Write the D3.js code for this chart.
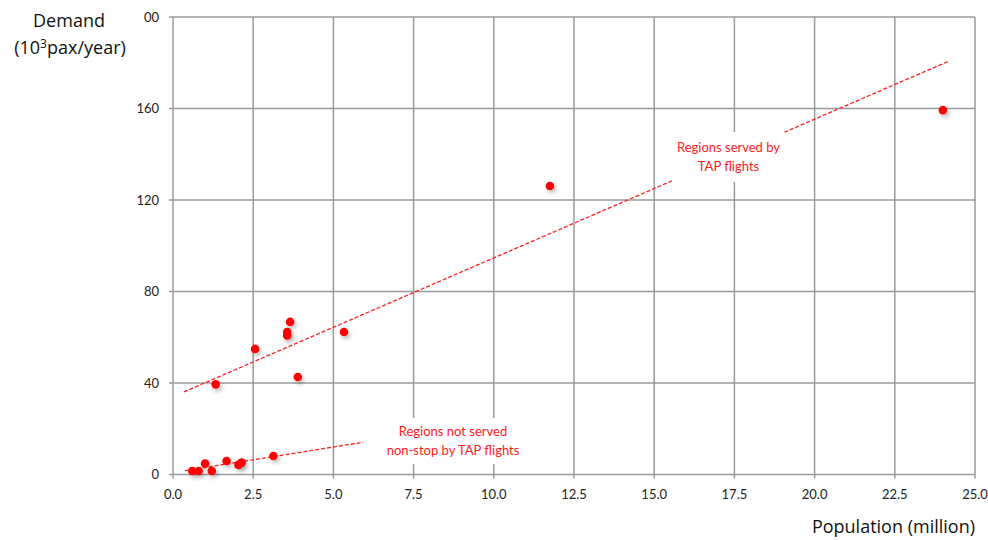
<!DOCTYPE html>
<html><head><meta charset="utf-8">
<script src="https://cdn.jsdelivr.net/npm/d3@7"></script>
<style>body{margin:0;background:#fff}svg{display:block}text{font-family:Lato,"Open Sans",sans-serif}</style>
</head><body><svg id="c" width="988" height="540"></svg>
<script>
const popX = [0.6, 0.8, 1.0, 1.21, 1.67, 2.04, 2.14, 3.13, 1.33, 2.56, 3.56, 3.56, 3.65, 3.89, 5.33, 11.75, 24.0];
const demandY = [1.5, 1.5, 4.8, 1.5, 5.9, 4.2, 5.2, 8.1, 39.4, 54.9, 62.3, 60.8, 66.7, 42.6, 62.3, 126.1, 159.3];
const xTicks = [0, 2.5, 5, 7.5, 10, 12.5, 15, 17.5, 20, 22.5, 25];
const xTickLabels = ["0.0","2.5","5.0","7.5","10.0","12.5","15.0","17.5","20.0","22.5","25.0"];
const yTicks = [0, 40, 80, 120, 160, 200];
const yTickLabels = ["0","40","80","120","160","00"];
// trend lines: [x0, y0, x1, y1]
const trendServed = [0.34, 36.1, 24.2, 180.8];
const trendNotServed = [0.37, 1.66, 5.93, 14.1];
const labelServed = ["Regions served by", "TAP flights"];
const labelNotServed = ["Regions not served", "non-stop by TAP flights"];

const svg = d3.select("#c");
const x = d3.scaleLinear().domain([0, 25]).range([173, 975]);
const y = d3.scaleLinear().domain([0, 200]).range([474.5, 17]);
const grid = "#9a9a9a";

const defs = svg.append("defs");
const f = defs.append("filter").attr("id","sh").attr("x","-100%").attr("y","-100%").attr("width","300%").attr("height","300%");
f.append("feGaussianBlur").attr("in","SourceAlpha").attr("stdDeviation",2).attr("result","b");
f.append("feOffset").attr("in","b").attr("dx",1.5).attr("dy",2.5).attr("result","o");
f.append("feComponentTransfer").attr("in","o").attr("result","o2").append("feFuncA").attr("type","linear").attr("slope",0.25);
const m = f.append("feMerge"); m.append("feMergeNode").attr("in","o2"); m.append("feMergeNode").attr("in","SourceGraphic");

// gridlines
svg.append("g").selectAll("line").data(xTicks).join("line")
  .attr("x1", d => x(d)).attr("x2", d => x(d)).attr("y1", y(200)).attr("y2", y(0) + 4)
  .attr("stroke", grid).attr("stroke-width", 1.5);
svg.append("g").selectAll("line").data(yTicks).join("line")
  .attr("x1", x(0) - 4).attr("x2", x(25)).attr("y1", d => y(d)).attr("y2", d => y(d))
  .attr("stroke", grid).attr("stroke-width", 1.5);

// tick labels
svg.append("g").selectAll("text").data(xTicks).join("text")
  .attr("x", d => x(d)).attr("y", 499).attr("text-anchor","middle")
  .attr("font-size", 13).attr("fill","#222").text((d,i) => xTickLabels[i]);
svg.append("g").selectAll("text").data(yTicks).join("text")
  .attr("x", 159).attr("y", d => y(d) + 4.5).attr("text-anchor","end")
  .attr("font-size", 13).attr("fill","#222").text((d,i) => yTickLabels[i]);

// trend lines
const line = d3.line().x(d => x(d[0])).y(d => y(d[1]));
[trendServed, trendNotServed].forEach(t => {
  svg.append("path").attr("d", line([[t[0], t[1]], [t[2], t[3]]]))
    .attr("stroke", "#ff2020").attr("stroke-width", 1.3).attr("fill","none")
    .attr("stroke-dasharray","4,2");
});

// points
svg.append("g").selectAll("circle").data(popX).join("circle")
  .attr("cx", d => x(d)).attr("cy", (d,i) => y(demandY[i])).attr("r", 4.3)
  .attr("fill", "#ff0000").attr("filter","url(#sh)");

// labels with white background
function label(lines, cx, cy, w, h) {
  const g = svg.append("g");
  g.append("rect").attr("x", cx - w/2).attr("y", cy - h/2).attr("width", w).attr("height", h).attr("fill","#fff");
  lines.forEach((t, i) => {
    g.append("text").attr("x", cx).attr("y", cy + (i - (lines.length-1)/2) * 19 + 4.5)
      .attr("text-anchor","middle").attr("font-size", 13).attr("fill","#ff1a1a").text(t);
  });
}
label(labelServed, 728.5, 157, 113, 50);
label(labelNotServed, 453, 441, 176, 46);

// axis titles
const tf = "'Open Sans', sans-serif";
svg.append("text").attr("x", 69).attr("y", 27).attr("text-anchor","middle").style("font-size", "18px").style("font-family", tf).attr("fill","#111").text("Demand");
const t2 = svg.append("text").attr("x", 70).attr("y", 54).attr("text-anchor","middle").style("font-size", "18px").style("font-family", tf).attr("fill","#111");
t2.append("tspan").text("(10");
t2.append("tspan").style("font-size", "12px").attr("dy", -6).text("3");
t2.append("tspan").attr("dy", 6).text("pax/year)");
svg.append("text").attr("x", 975).attr("y", 533).attr("text-anchor","end").style("font-size", "18px").style("font-family", tf).attr("fill","#111").text("Population  (million)");
</script></body></html>
